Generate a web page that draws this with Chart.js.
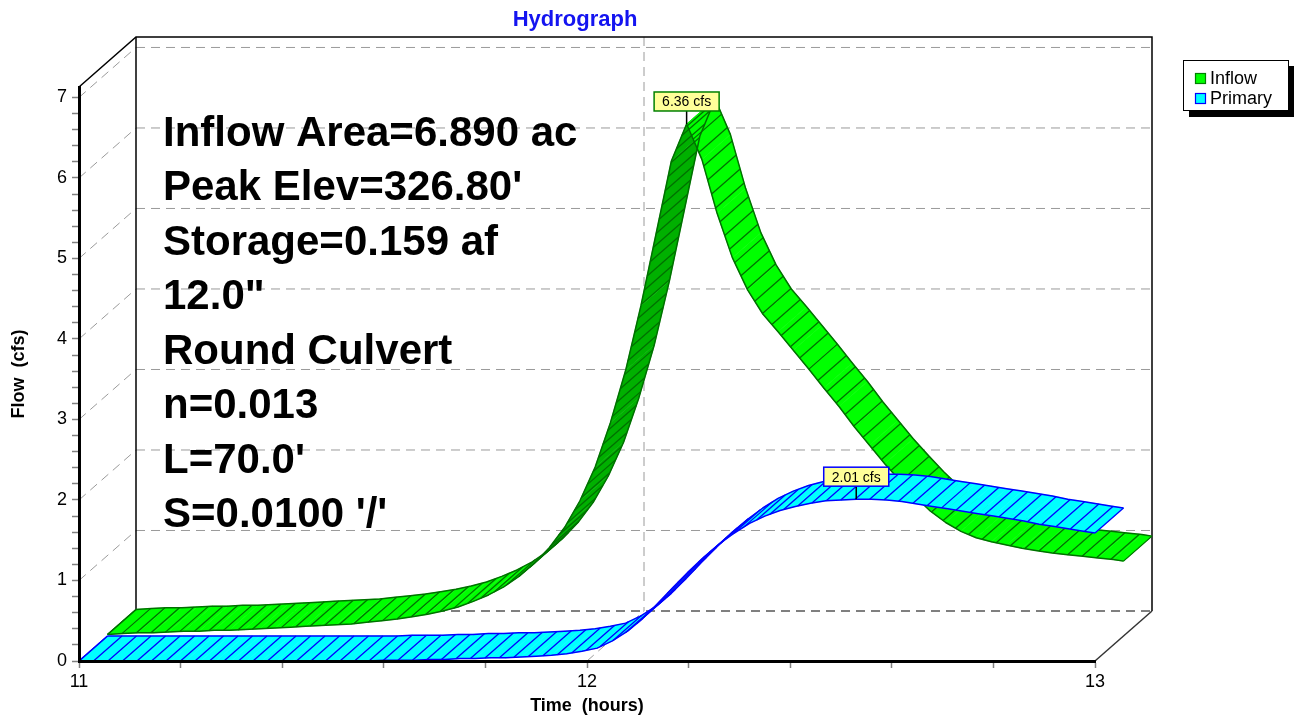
<!DOCTYPE html>
<html><head><meta charset="utf-8">
<script src="https://cdn.jsdelivr.net/npm/chart.js@4.4.1/dist/chart.umd.min.js"></script>
<style>html,body{margin:0;padding:0;background:#fff;}canvas{display:block}</style>
</head><body>
<canvas id="c" width="1294" height="719"></canvas>
<script>
// ---------------- data ----------------
const chartTitle = "Hydrograph";
const seriesNames = ["Inflow", "Primary"];
const times = [11.00,11.03,11.06,11.09,11.12,11.15,11.18,11.21,11.24,11.27,
  11.30,11.33,11.36,11.39,11.42,11.45,11.48,11.51,11.54,11.57,
  11.60,11.63,11.66,11.69,11.72,11.75,11.78,11.81,11.84,11.87,
  11.90,11.93,11.96,11.99,12.02,12.05,12.08,12.11,12.14,12.17,
  12.20,12.23,12.26,12.29,12.32,12.35,12.38,12.41,12.44,12.47,
  12.50,12.53,12.56,12.59,12.62,12.65,12.68,12.71,12.74,12.77,
  12.80,12.83,12.86,12.89,12.92,12.95,12.98,13.00];
const inflow = [0.02,0.03,0.04,0.04,0.05,0.06,0.06,0.07,0.07,0.08,
  0.09,0.10,0.11,0.12,0.13,0.14,0.15,0.17,0.19,0.21,
  0.24,0.27,0.31,0.36,0.43,0.51,0.61,0.74,0.90,1.10,
  1.35,1.68,2.10,2.65,3.30,4.10,5.00,5.90,6.36,5.92,
  5.25,4.70,4.30,4.00,3.78,3.55,3.32,3.08,2.85,2.60,
  2.37,2.14,1.93,1.73,1.55,1.41,1.30,1.22,1.17,1.13,
  1.09,1.06,1.03,1.01,0.99,0.97,0.95,0.93];
const primary = [0.00,0.00,0.00,0.00,0.00,0.00,0.00,0.00,0.00,0.00,
  0.00,0.00,0.00,0.00,0.00,0.00,0.00,0.00,0.00,0.00,
  0.01,0.01,0.01,0.02,0.02,0.03,0.03,0.04,0.04,0.05,
  0.06,0.07,0.09,0.12,0.16,0.25,0.37,0.53,0.72,0.92,
  1.11,1.29,1.45,1.59,1.71,1.80,1.87,1.92,1.96,1.99,
  2.00,2.01,2.01,2.00,1.98,1.95,1.92,1.89,1.86,1.83,
  1.80,1.77,1.74,1.70,1.67,1.64,1.61,1.59];
const xTickLabels = [11, 12, 13];
const yTickLabels = [0, 1, 2, 3, 4, 5, 6, 7];
const xAxisTitle = "Time  (hours)";
const yAxisTitle = "Flow  (cfs)";
const infoLines = ["Inflow Area=6.890 ac", "Peak Elev=326.80'", "Storage=0.159 af", "12.0\"",
  "Round Culvert", "n=0.013", "L=70.0'", "S=0.0100 '/'"];

// ---------------- style ----------------
const FONT = '"Liberation Sans", Arial, Helvetica, sans-serif';
const DX = 57, DY = -50;          // full depth offset of the 3D box
const Y_TOP = 7.13;
const HATCH_STEP = 14.5;          // hatch spacing along the ribbon (px)
const styles = [
  {z0: 0.5, z1: 1.0, top: '#00FF00', under: '#00B000', line: '#007000', box: '#008000'},
  {z0: 0.0, z1: 0.5, top: '#00FFFF', under: '#00C4C4', line: '#0000FF', box: '#0000FF'}
];
const isInt = v => Math.abs(v - Math.round(v)) < 1e-6;

function seg(ctx, a, b, c, d) { ctx.beginPath(); ctx.moveTo(a, b); ctx.lineTo(c, d); ctx.stroke(); }

function drawRibbon(ctx, X, Y, vals, st) {
  const F = times.map((t, i) => [X(t) + DX * st.z0, Y(vals[i]) + DY * st.z0]);
  const B = times.map((t, i) => [X(t) + DX * st.z1, Y(vals[i]) + DY * st.z1]);
  const n = F.length - 1;
  ctx.lineJoin = 'round';
  // surface quads
  for (let i = 0; i < n; i++) {
    const ex = F[i + 1][0] - F[i][0], ey = F[i + 1][1] - F[i][1];
    const dx = B[i][0] - F[i][0], dy = B[i][1] - F[i][1];
    const col = (ex * dy - ey * dx) < 0 ? st.top : st.under;
    ctx.beginPath();
    ctx.moveTo(F[i][0], F[i][1]); ctx.lineTo(F[i + 1][0], F[i + 1][1]);
    ctx.lineTo(B[i + 1][0], B[i + 1][1]); ctx.lineTo(B[i][0], B[i][1]);
    ctx.closePath();
    ctx.fillStyle = col; ctx.fill();
    ctx.strokeStyle = col; ctx.lineWidth = 0.6; ctx.stroke();
  }
  // hatch lines spaced evenly along the ribbon's mid line
  const M = F.map((p, i) => [(p[0] + B[i][0]) / 2, (p[1] + B[i][1]) / 2]);
  const L = [0];
  for (let i = 1; i <= n; i++) L.push(L[i - 1] + Math.hypot(M[i][0] - M[i - 1][0], M[i][1] - M[i - 1][1]));
  ctx.strokeStyle = st.line; ctx.lineWidth = 1.3;
  let j = 0;
  for (let s = 0; s <= L[n] + 0.01; s += HATCH_STEP) {
    while (j < n - 1 && L[j + 1] < s) j++;
    const f = L[j + 1] > L[j] ? Math.min(1, (s - L[j]) / (L[j + 1] - L[j])) : 0;
    const fx = F[j][0] + (F[j + 1][0] - F[j][0]) * f, fy = F[j][1] + (F[j + 1][1] - F[j][1]) * f;
    const bx = B[j][0] + (B[j + 1][0] - B[j][0]) * f, by = B[j][1] + (B[j + 1][1] - B[j][1]) * f;
    seg(ctx, fx, fy, bx, by);
  }
  // end caps and edges
  seg(ctx, F[0][0], F[0][1], B[0][0], B[0][1]);
  seg(ctx, F[n][0], F[n][1], B[n][0], B[n][1]);
  ctx.lineWidth = 1.5;
  [F, B].forEach(P => {
    ctx.beginPath(); ctx.moveTo(P[0][0], P[0][1]);
    for (let i = 1; i <= n; i++) ctx.lineTo(P[i][0], P[i][1]);
    ctx.stroke();
  });
}

const hydroPlugin = {
  id: 'hydro3d',
  beforeDatasetsDraw(chart) {
    const {ctx, scales: {x, y}} = chart;
    const X = v => x.getPixelForValue(v), Y = v => y.getPixelForValue(v);
    const x0 = X(xTickLabels[0]), x1 = X(xTickLabels[xTickLabels.length - 1]);
    const yb = Y(0), yt = Y(Y_TOP);
    ctx.save();
    // gray dashed grid on back and left walls
    ctx.strokeStyle = '#9a9a9a'; ctx.lineWidth = 1; ctx.setLineDash([9, 6]);
    yTickLabels.forEach(v => {
      if (v <= 0) return;
      seg(ctx, x0 + DX, Y(v) + DY, x1 + DX, Y(v) + DY);
      seg(ctx, x0, Y(v), x0 + DX, Y(v) + DY);
    });
    xTickLabels.forEach((t, i) => {
      if (i === 0 || i === xTickLabels.length - 1) return;
      seg(ctx, X(t) + DX, yt + DY, X(t) + DX, yb + DY);
      seg(ctx, X(t), yb, X(t) + DX, yb + DY);
    });
    ctx.strokeStyle = '#000';
    seg(ctx, x0 + DX, yb + DY, x1 + DX, yb + DY);
    ctx.setLineDash([]);
    // solid box frame
    ctx.strokeStyle = '#000'; ctx.lineWidth = 1.5;
    ctx.beginPath();
    ctx.moveTo(x0, yt); ctx.lineTo(x0 + DX, yt + DY); ctx.lineTo(x1 + DX, yt + DY);
    ctx.lineTo(x1 + DX, yb + DY); ctx.stroke();
    seg(ctx, x0 + DX, yt + DY, x0 + DX, yb + DY);
    ctx.strokeStyle = '#333';
    seg(ctx, x1, yb, x1 + DX, yb + DY);
    // ribbons (back series first)
    drawRibbon(ctx, X, Y, inflow, styles[0]);
    drawRibbon(ctx, X, Y, primary, styles[1]);
    ctx.restore();
  },
  afterDraw(chart) {
    const {ctx, scales: {x, y}} = chart;
    const X = v => x.getPixelForValue(v), Y = v => y.getPixelForValue(v);
    ctx.save();
    // peak callouts
    [inflow, primary].forEach((vals, s) => {
      const st = styles[s];
      let im = 0;
      vals.forEach((v, i) => { if (v > vals[im]) im = i; });
      const px = X(times[im]) + DX * st.z0, py = Y(vals[im]) + DY * st.z0;
      const txt = vals[im].toFixed(2) + ' cfs';
      ctx.font = '14px ' + FONT;
      const w = ctx.measureText(txt).width + 16, h = 19;
      const by = py - 13 - h;
      ctx.strokeStyle = '#000'; ctx.lineWidth = 1.5;
      seg(ctx, px, py, px, py - 13);
      ctx.fillStyle = '#FFFF99';
      ctx.fillRect(px - w / 2, by, w, h);
      ctx.strokeStyle = st.box; ctx.lineWidth = 1.5;
      ctx.strokeRect(px - w / 2, by, w, h);
      ctx.fillStyle = '#000'; ctx.textAlign = 'center'; ctx.textBaseline = 'middle';
      ctx.fillText(txt, px, by + h / 2 + 1);
    });
    // title
    ctx.fillStyle = '#1414F0'; ctx.font = 'bold 22px ' + FONT;
    ctx.textAlign = 'center'; ctx.textBaseline = 'alphabetic';
    ctx.fillText(chartTitle, 575, 26);
    // axis titles
    ctx.fillStyle = '#000'; ctx.font = 'bold 18px ' + FONT;
    ctx.fillText(xAxisTitle, (x.left + x.right) / 2, 711);
    ctx.save();
    ctx.translate(24, (y.top + y.bottom) / 2);
    ctx.rotate(-Math.PI / 2);
    ctx.fillText(yAxisTitle, 0, 0);
    ctx.restore();
    // info text block
    ctx.font = 'bold 42px ' + FONT; ctx.textAlign = 'left'; ctx.textBaseline = 'middle';
    infoLines.forEach((t, i) => ctx.fillText(t, 163, 134 + i * 54.5));
    // legend
    ctx.fillStyle = '#000'; ctx.fillRect(1189, 66, 105, 51);
    ctx.fillStyle = '#fff'; ctx.fillRect(1183, 60, 105, 51);
    ctx.strokeStyle = '#000'; ctx.lineWidth = 1; ctx.strokeRect(1183.5, 60.5, 105, 50);
    ctx.font = '18px ' + FONT; ctx.textBaseline = 'middle';
    seriesNames.forEach((nm, i) => {
      const yy = 78 + i * 20;
      ctx.fillStyle = styles[i].top; ctx.fillRect(1195, yy - 5, 11, 11);
      ctx.strokeStyle = styles[i].box; ctx.lineWidth = 1.2; ctx.strokeRect(1195.5, yy - 4.5, 10, 10);
      ctx.fillStyle = '#000'; ctx.fillText(nm, 1210, yy + 1);
    });
    ctx.restore();
  }
};

const tickFont = {family: FONT, size: 18};
new Chart(document.getElementById('c'), {
  type: 'line',
  data: {
    datasets: [
      {label: seriesNames[0], data: times.map((t, i) => ({x: t, y: inflow[i]})), borderColor: 'rgba(0,0,0,0)', borderWidth: 0, pointRadius: 0},
      {label: seriesNames[1], data: times.map((t, i) => ({x: t, y: primary[i]})), borderColor: 'rgba(0,0,0,0)', borderWidth: 0, pointRadius: 0}
    ]
  },
  options: {
    responsive: false, animation: false, devicePixelRatio: 1,
    layout: {padding: {top: 87, right: 199, bottom: 0, left: 0}},
    plugins: {legend: {display: false}, tooltip: {enabled: false}, title: {display: false}},
    scales: {
      x: {
        type: 'linear', min: 11, max: 13,
        afterFit: s => { s.height = 58; },
        ticks: {stepSize: 0.2, autoSkip: false, maxRotation: 0, padding: 3, color: '#000', font: tickFont,
          callback: v => isInt(v) && xTickLabels.includes(Math.round(v)) ? String(Math.round(v)) : ''},
        grid: {drawOnChartArea: false, drawTicks: true, tickLength: 7, tickColor: '#808080', tickWidth: 1.5},
        border: {display: true, color: '#000', width: 3, z: 1}
      },
      y: {
        type: 'linear', min: 0, max: Y_TOP,
        afterFit: s => { s.width = 79; },
        afterBuildTicks: s => { s.ticks = s.ticks.filter(t => t.value <= 7.0001); },
        ticks: {stepSize: 0.2, includeBounds: false, autoSkip: false, padding: 5, color: '#000', font: tickFont,
          callback: v => isInt(v) && yTickLabels.includes(Math.round(v)) ? String(Math.round(v)) : ''},
        grid: {drawOnChartArea: false, drawTicks: true, tickLength: 7, tickColor: '#808080', tickWidth: 1.5},
        border: {display: true, color: '#000', width: 3, z: 1}
      }
    }
  },
  plugins: [hydroPlugin]
});
</script>
</body></html>
